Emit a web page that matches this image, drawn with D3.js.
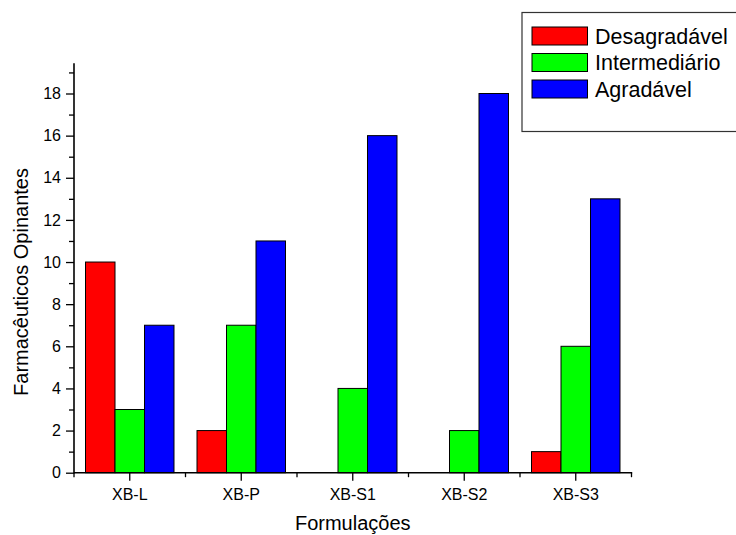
<!DOCTYPE html>
<html><head><meta charset="utf-8">
<script src="https://cdn.jsdelivr.net/npm/d3@7/dist/d3.min.js"></script>
<style>
body{margin:0;background:#fff;}
text{font-family:"Liberation Sans",Arial,sans-serif;fill:#000;}
</style></head>
<body><svg id="c" width="736" height="535"></svg>
<script>
const categories = ["XB-L","XB-P","XB-S1","XB-S2","XB-S3"];
const seriesNames = ["Desagradável","Intermediário","Agradável"];
const desagradavel = [10,2,0,0,1];
const intermediario = [3,7,4,2,6];
const agradavel = [7,11,16,18,13];
const yTicks = [0,2,4,6,8,10,12,14,16,18];
const yMinorTicks = [1,3,5,7,9,11,13,15,17,19];
const colors = ["#ff0000","#00ff00","#0000ff"];
const seriesValues = [desagradavel, intermediario, agradavel];

const svg = d3.select("#c");
const left = 74, right = 631.5, bottom = 472.7;
const y = d3.scaleLinear().domain([0,18]).range([bottom, 93.5]);
const yMax = 19.43;
const x0 = d3.scaleBand().domain(categories).range([left,right]).paddingInner(0).paddingOuter(0);
const x1 = d3.scaleBand().domain(seriesNames).range([0,x0.bandwidth()]).paddingInner(0).paddingOuter(0.39);

// bars
categories.forEach((c,ci)=>{
  seriesNames.forEach((s,si)=>{
    const v = seriesValues[si][ci];
    if(v<=0) return;
    svg.append("rect")
      .attr("x", x0(c)+x1(s))
      .attr("y", y(v))
      .attr("width", x1.bandwidth())
      .attr("height", y(0)-y(v))
      .attr("fill", colors[si])
      .attr("stroke","#000").attr("stroke-width",1);
  });
});

// y axis
const yAxis = svg.append("g").attr("transform",`translate(${left},0)`)
  .call(d3.axisLeft(y).tickValues(yTicks).tickSize(8).tickPadding(5).tickFormat(d3.format("d")));
yAxis.select(".domain").remove();
yAxis.selectAll("line").attr("stroke","#000").attr("stroke-width",1.3);
yAxis.selectAll("text").style("font-size","16px").style("font-family","'Liberation Sans',Arial,sans-serif");
const yMinor = svg.append("g").attr("transform",`translate(${left},0)`)
  .call(d3.axisLeft(y).tickValues(yMinorTicks).tickSize(5).tickFormat(""));
yMinor.select(".domain").remove();
yMinor.selectAll("line").attr("stroke","#000").attr("stroke-width",1.3);
svg.append("line").attr("x1",left).attr("x2",left).attr("y1",y(yMax)).attr("y2",bottom+0.7)
  .attr("stroke","#000").attr("stroke-width",1.6);

// x axis
const xAxis = svg.append("g").attr("transform",`translate(0,${bottom})`)
  .call(d3.axisBottom(x0).tickSize(8).tickPadding(8));
xAxis.select(".domain").remove();
xAxis.selectAll("line").attr("stroke","#000").attr("stroke-width",1.3);
xAxis.selectAll("text").style("font-size","16px").style("font-family","'Liberation Sans',Arial,sans-serif");
const boundaries = categories.map(c=>x0(c)).concat([right]);
svg.append("g").selectAll("line").data(boundaries).join("line")
  .attr("x1",d=>d).attr("x2",d=>d).attr("y1",bottom).attr("y2",bottom+4.5)
  .attr("stroke","#000").attr("stroke-width",1.3);
svg.append("line").attr("x1",left).attr("x2",right+0.7).attr("y1",bottom).attr("y2",bottom)
  .attr("stroke","#000").attr("stroke-width",1.6);

// titles
svg.append("text").attr("x",(left+right)/2).attr("y",530).attr("text-anchor","middle")
  .style("font-size","20px").text("Formulações");
svg.append("text").attr("transform","translate(28,282) rotate(-90)").attr("text-anchor","middle")
  .style("font-size","20px").text("Farmacêuticos Opinantes");

// legend
const lg = svg.append("g");
lg.append("rect").attr("x",522).attr("y",12.5).attr("width",230).attr("height",119)
  .attr("fill","#fff").attr("stroke","#333").attr("stroke-width",1.2);
const legY = d3.scalePoint().domain(seriesNames).range([36,89]);
seriesNames.forEach((s,i)=>{
  lg.append("rect").attr("x",532).attr("y",legY(s)-9).attr("width",55.5).attr("height",18)
    .attr("fill",colors[i]).attr("stroke","#000").attr("stroke-width",1);
  lg.append("text").attr("x",595).attr("y",legY(s)).attr("dy","0.36em")
    .style("font-size","21.5px").text(s);
});
</script></body></html>
